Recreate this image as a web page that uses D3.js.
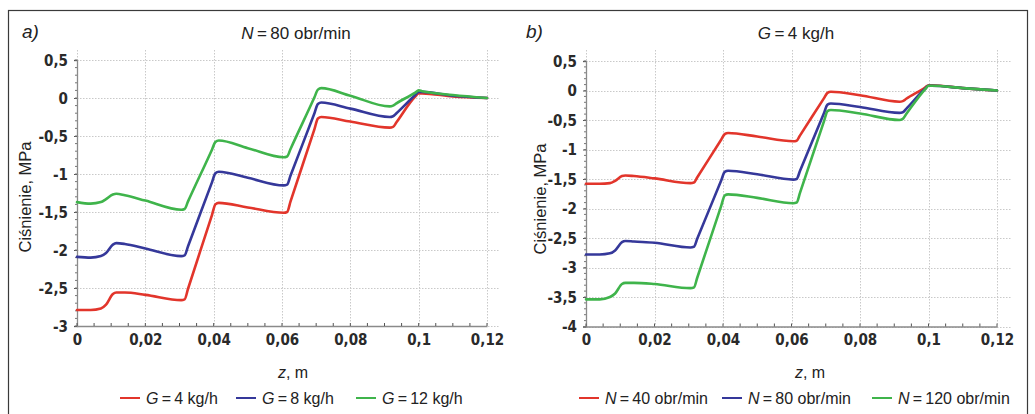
<!DOCTYPE html>
<html>
<head>
<meta charset="utf-8">
<script src="https://cdn.jsdelivr.net/npm/d3@7/dist/d3.min.js"></script>
<style>
  html, body { margin: 0; padding: 0; background: #fff; }
  svg { display: block; }
</style>
</head>
<body>
<svg id="chart" width="1035" height="414"></svg>
<script>
// ---------- DATA ----------
const zValues = [0, 0.004, 0.007, 0.0085, 0.0105, 0.0115, 0.014, 0.02, 0.0305, 0.0315, 0.0325,
  0.0395, 0.0405, 0.0415, 0.05, 0.0605, 0.0615, 0.0625, 0.0695, 0.0705, 0.0715, 0.08,
  0.0915, 0.0925, 0.0935, 0.099, 0.1, 0.101, 0.11, 0.12];

// Panel a) N = 80 obr/min
const seriesA_G4 = [-2.79, -2.79, -2.77, -2.72, -2.58, -2.56, -2.56, -2.59, -2.66, -2.65, -2.51,
  -1.54, -1.40, -1.38, -1.44, -1.51, -1.50, -1.36, -0.41, -0.27, -0.25, -0.31,
  -0.39, -0.38, -0.32, 0.02, 0.06, 0.06, 0.02, 0.0];
const seriesA_G8 = [-2.09, -2.10, -2.08, -2.04, -1.93, -1.91, -1.92, -1.98, -2.08, -2.07, -1.95,
  -1.11, -0.99, -0.97, -1.05, -1.15, -1.14, -1.02, -0.20, -0.08, -0.06, -0.14,
  -0.25, -0.24, -0.20, 0.04, 0.08, 0.08, 0.03, 0.0];
const seriesA_G12 = [-1.37, -1.39, -1.37, -1.33, -1.27, -1.26, -1.28, -1.35, -1.47, -1.46, -1.36,
  -0.68, -0.58, -0.56, -0.66, -0.78, -0.77, -0.67, 0.01, 0.11, 0.13, 0.03,
  -0.11, -0.10, -0.07, 0.07, 0.10, 0.09, 0.04, 0.0];

// Panel b) G = 4 kg/h
const seriesB_N40 = [-1.58, -1.58, -1.57, -1.53, -1.45, -1.44, -1.45, -1.49, -1.57, -1.56, -1.47,
  -0.83, -0.74, -0.72, -0.78, -0.86, -0.85, -0.76, -0.13, -0.04, -0.02, -0.08,
  -0.19, -0.18, -0.14, 0.05, 0.09, 0.09, 0.04, 0.0];
const seriesB_N80 = [-2.78, -2.78, -2.76, -2.71, -2.57, -2.55, -2.56, -2.58, -2.66, -2.65, -2.51,
  -1.52, -1.38, -1.36, -1.42, -1.51, -1.50, -1.36, -0.38, -0.24, -0.22, -0.28,
  -0.38, -0.37, -0.31, 0.03, 0.08, 0.08, 0.04, 0.0];
const seriesB_N120 = [-3.54, -3.54, -3.50, -3.44, -3.28, -3.26, -3.26, -3.28, -3.35, -3.34, -3.17,
  -1.95, -1.78, -1.76, -1.82, -1.91, -1.90, -1.73, -0.52, -0.35, -0.33, -0.39,
  -0.50, -0.48, -0.40, 0.02, 0.08, 0.08, 0.04, 0.0];

const xTicks = [0, 0.02, 0.04, 0.06, 0.08, 0.1, 0.12];
const yTicksA = [0.5, 0, -0.5, -1, -1.5, -2, -2.5, -3];
const yTicksB = [0.5, 0, -0.5, -1, -1.5, -2, -2.5, -3, -3.5, -4];

const legendA = [{sym: "G", rest: "4 kg/h"}, {sym: "G", rest: "8 kg/h"}, {sym: "G", rest: "12 kg/h"}];
const legendB = [{sym: "N", rest: "40 obr/min"}, {sym: "N", rest: "80 obr/min"}, {sym: "N", rest: "120 obr/min"}];

const colors = ["#e2352b", "#35389a", "#3fb44b"];

// ---------- DRAW ----------
const svg = d3.select("#chart");
const fmt = v => String(v).replace(".", ",");

// outer frame
svg.append("rect").attr("x", 8.5).attr("y", 10.5).attr("width", 1019).attr("height", 420)
  .attr("fill", "none").attr("stroke", "#3a3a3a").attr("stroke-width", 1.2);

function panel(cfg) {
  const g = svg.append("g");
  const x = d3.scaleLinear().domain([0, 0.12]).range([cfg.x0, cfg.x1]);
  const y = d3.scaleLinear().domain(cfg.yDomain).range([cfg.yBottom, cfg.yTop]);

  // grid
  const grid = g.append("g").attr("stroke", "#c9c9c9").attr("stroke-width", 1)
    .attr("stroke-dasharray", "1.5,1.5");
  cfg.yTicks.forEach(t => {
    grid.append("line").attr("x1", cfg.x0).attr("x2", cfg.gridRight)
      .attr("y1", Math.round(y(t)) + 0.5).attr("y2", Math.round(y(t)) + 0.5);
  });
  xTicks.forEach(t => {
    grid.append("line").attr("x1", Math.round(x(t)) + 0.5).attr("x2", Math.round(x(t)) + 0.5)
      .attr("y1", cfg.gridTop).attr("y2", cfg.yBottom);
  });

  // axes
  const xAxis = d3.axisBottom(x).tickValues(xTicks).tickSize(0).tickPadding(8).tickFormat(fmt);
  const xa = g.append("g").attr("transform", `translate(0,${cfg.yBottom})`).call(xAxis);
  const yAxis = d3.axisLeft(y).tickValues(cfg.yTicks).tickSize(3).tickPadding(6).tickFormat(fmt);
  const ya = g.append("g").attr("transform", `translate(${cfg.x0},0)`).call(yAxis);
  [xa, ya].forEach(a => {
    a.select(".domain").attr("stroke", "#8a8a8a").attr("stroke-width", 1.3);
    a.selectAll(".tick line").attr("stroke", "#555");
    a.selectAll("text").attr("font-family", "'DejaVu Sans Condensed', 'DejaVu Sans', Verdana, sans-serif")
      .attr("font-stretch", "condensed")
      .attr("font-weight", "bold").attr("font-size", 15).attr("fill", "#2a2a2a");
  });
  ya.selectAll("text").attr("dy", "0.35em");
  // minor ticks
  const minorX = d3.range(0, 0.1201, 0.005);
  g.append("g").selectAll("line").data(minorX).join("line")
    .attr("x1", d => x(d)).attr("x2", d => x(d))
    .attr("y1", cfg.yBottom).attr("y2", cfg.yBottom - 3)
    .attr("stroke", "#555").attr("stroke-width", 1);
  const minorY = d3.range(cfg.yDomain[0], cfg.yDomain[1] + 0.001, 0.1);
  g.append("g").selectAll("line").data(minorY).join("line")
    .attr("x1", cfg.x0).attr("x2", cfg.x0 - 2)
    .attr("y1", d => y(d)).attr("y2", d => y(d))
    .attr("stroke", "#777").attr("stroke-width", 1);

  // lines
  const line = d3.line().x(d => x(d[0])).y(d => y(d[1])).curve(d3.curveMonotoneX);
  cfg.series.forEach((s, i) => {
    g.append("path").datum(zValues.map((z, j) => [z, s[j]]))
      .attr("d", line).attr("fill", "none").attr("stroke", colors[i])
      .attr("stroke-width", 2.6).attr("stroke-linejoin", "round").attr("stroke-linecap", "round");
  });

  // panel letter
  g.append("text").attr("x", cfg.letterX).attr("y", 38).text(cfg.letter)
    .attr("font-family", "Liberation Sans, Arial, sans-serif").attr("font-style", "italic")
    .attr("font-size", 19).attr("fill", "#222");

  // title
  const title = g.append("text").attr("x", cfg.titleX).attr("y", 39).attr("text-anchor", "middle")
    .attr("font-family", "Liberation Sans, Arial, sans-serif").attr("font-size", 17).attr("fill", "#222");
  title.append("tspan").attr("font-style", "italic").text(cfg.titleSym);
  title.append("tspan").text("\u2009=\u2009" + cfg.titleRest);

  // y label
  g.append("text").attr("transform", `translate(${cfg.yLabelX},${cfg.yLabelY}) rotate(-90)`)
    .attr("text-anchor", "middle").text("Ciśnienie, MPa")
    .attr("font-family", "Liberation Sans, Arial, sans-serif").attr("font-size", 16.5).attr("fill", "#222");

  // x label
  const xl = g.append("text").attr("x", cfg.xLabelX).attr("y", 378).attr("text-anchor", "middle")
    .attr("font-family", "Liberation Sans, Arial, sans-serif").attr("font-size", 16).attr("fill", "#222");
  xl.append("tspan").attr("font-style", "italic").text("z");
  xl.append("tspan").text(", m");

  // legend
  const lg = g.append("g");
  cfg.legend.forEach((item, i) => {
    const lx = cfg.legendX[i];
    lg.append("line").attr("x1", lx).attr("x2", lx + 20).attr("y1", 398).attr("y2", 398)
      .attr("stroke", colors[i]).attr("stroke-width", 2);
    const t = lg.append("text").attr("x", lx + 26).attr("y", 404)
      .attr("font-family", "Liberation Sans, Arial, sans-serif").attr("font-size", 16).attr("fill", "#222");
    t.append("tspan").attr("font-style", "italic").text(item.sym);
    t.append("tspan").text("\u2009=\u2009" + item.rest);
  });
}

panel({
  x0: 77, x1: 487, gridRight: 500, gridTop: 50, yTop: 60, yBottom: 326,
  yDomain: [-3, 0.5], yTicks: yTicksA,
  series: [seriesA_G4, seriesA_G8, seriesA_G12],
  letter: "a)", letterX: 22, titleX: 296, titleSym: "N", titleRest: "80 obr/min",
  yLabelX: 31, yLabelY: 197, xLabelX: 293,
  legend: legendA, legendX: [120, 236, 356]
});

panel({
  x0: 586, x1: 997, gridRight: 1011, gridTop: 50, yTop: 61, yBottom: 326.5,
  yDomain: [-4, 0.5], yTicks: yTicksB,
  series: [seriesB_N40, seriesB_N80, seriesB_N120],
  letter: "b)", letterX: 526, titleX: 796, titleSym: "G", titleRest: "4 kg/h",
  yLabelX: 546, yLabelY: 199, xLabelX: 810,
  legend: legendB, legendX: [579, 722, 872]
});
</script>
</body>
</html>
